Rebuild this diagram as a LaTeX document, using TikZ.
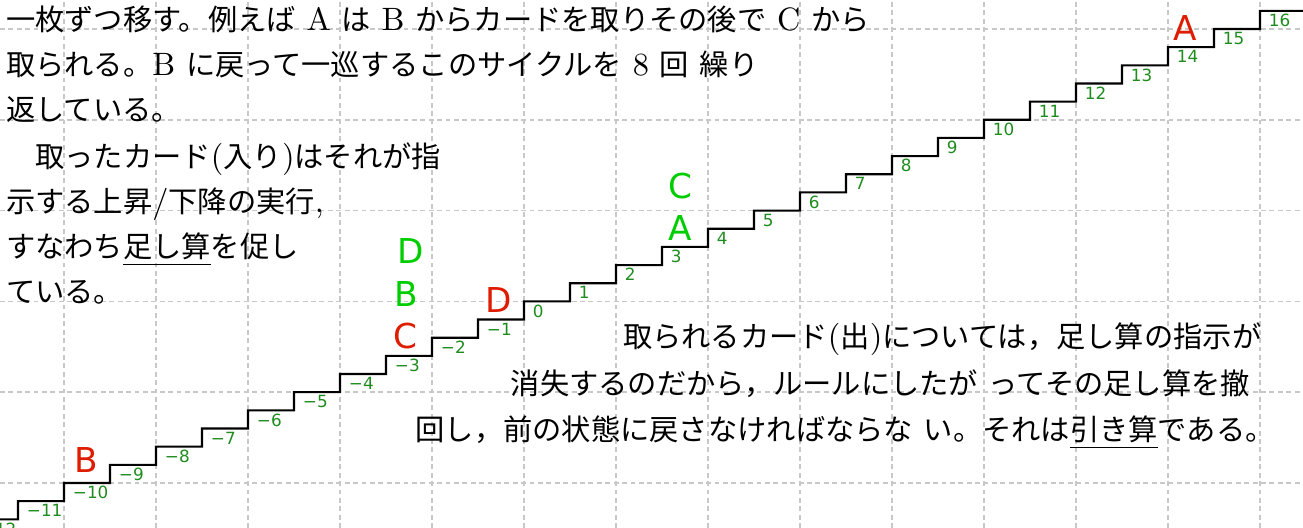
\documentclass[tikz,border=0pt]{standalone}
\usepackage{fontspec}
\newfontfamily\jp{Noto Sans CJK JP}[Scale=0.905]
\newfontfamily\dv{DejaVu Sans}
\definecolor{labgreen}{RGB}{30,140,30}
\definecolor{cardred}{RGB}{222,28,0}
\definecolor{cardgreen}{RGB}{0,205,0}
\definecolor{gridgray}{RGB}{200,200,200}
\begin{document}
\begin{tikzpicture}[x=1cm,y=0.98696cm,
  gridline/.style={gridgray, line width=0.45pt, dash pattern=on 1.5pt off 1.1pt},
  stair/.style={black, line width=0.65pt},
  lab/.style={text=labgreen, font=\dv\fontsize{5.2pt}{6pt}\selectfont, inner sep=0pt, anchor=north west},
  card/.style={font=\dv\fontsize{10.6pt}{12pt}\selectfont, inner sep=0pt},
  txt/.style={font=\fontsize{10pt}{12pt}\selectfont, inner sep=0pt, anchor=base west}]
\useasboundingbox (-0.6957,-0.4956) rectangle (13.4674,5.3194);
\clip (-0.6957,-0.4956) rectangle (13.4674,5.3194);
% grid
\foreach \i in {0,...,13} \draw[gridline] (\i,-0.4956) -- (\i,5.3194);
\foreach \j in {0,...,5} \draw[gridline] (-0.6957,\j) -- (13.4674,\j);
% staircase
\draw[stair] (-1,-0.4) \foreach \n in {-12,...,16} { -- ({5.5+0.5*\n},{2+0.2*\n}) -- ({5.5+0.5*\n},{2.2+0.2*\n}) };
% step labels
\foreach \n in {-12,...,16} {
  \pgfmathtruncatemacro\k{\n+12}
  \node[lab] (lab\k) at ({5.09+0.5*\n},{1.97+0.2*\n}) {\ifnum\n<0 −\the\numexpr-\n\relax\else\n\fi};
}
% cards
\node[card, text=cardred] (rB) at (0.2446,0.2533) {B};
\node[card, text=cardred] (rC) at (3.7065,1.619) {C};
\node[card, text=cardgreen] (gB) at (3.717,2.0815) {B};
\node[card, text=cardgreen] (gD) at (3.772,2.555) {D};
\node[card, text=cardred] (rD) at (4.728,2.0154) {D};
\node[card, text=cardgreen] (gA) at (6.696,2.808) {A};
\node[card, text=cardgreen] (gC) at (6.696,3.265) {C};
\node[card, text=cardred] (rA) at (12.19,5.011) {A};
% text block 1
\node[txt] (t11) at (-0.636,4.986) {{\jp 一枚ずつ移す。例えば} A {\jp は} B {\jp からカードを取りその後で} C {\jp から}};
\node[txt] (t12) at (-0.636,4.490) {{\jp 取られる。}B {\jp に戻って一巡するこのサイクルを} 8 {\jp 回} {\jp 繰り}};
\node[txt] (t13) at (-0.636,3.994) {{\jp 返している。}};
% text block 2
\node[txt] (t21) at (-0.636,3.477) {{\jp 　取ったカード}({\jp 入り}){\jp はそれが指}};
\node[txt] (t22) at (-0.636,2.981) {{\jp 示する上昇}/{\jp 下降の実行},};
\node[txt] (t23) at (-0.636,2.486) {{\jp すなわち}\underline{\jp 足し算}{\jp を促し}};
\node[txt] (t24) at (-0.636,1.990) {{\jp ている。}};
% text block 3
\node[txt] (t31) at (6.07,1.489) {{\jp 取られるカード}({\jp 出}){\jp については，足し算の指示が}};
\node[txt] (t32) at (4.85,0.977) {{\jp 消失するのだから，ルールにしたが} {\jp ってその足し算を撤}};
\node[txt] (t33) at (3.815,0.470) {{\jp 回し，前の状態に戻さなければならな} {\jp い。それは}\underline{\jp 引き算}{\jp である。}};
\end{tikzpicture}
\end{document}
